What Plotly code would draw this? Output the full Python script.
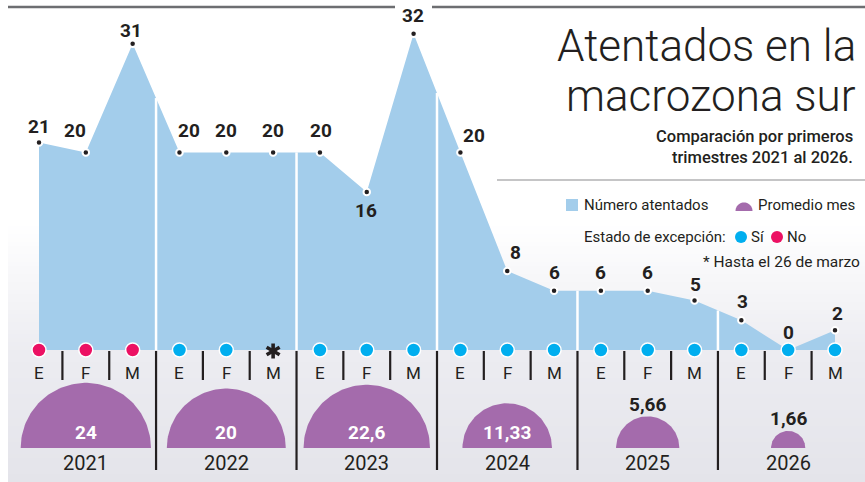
import numpy as np
import plotly.graph_objects as go

# ---------------- data ----------------
years = ['2021', '2022', '2023', '2024', '2025', '2026']
months = ['E', 'F', 'M']
atentados = [21, 20, 31, 20, 20, 20, 20, 16, 32, 20, 8, 6, 6, 6, 5, 3, 0, 2]
estado = ['No', 'No', 'No', 'Sí', 'Sí', '*', 'Sí', 'Sí', 'Sí',
          'Sí', 'Sí', 'Sí', 'Sí', 'Sí', 'Sí', 'Sí', 'Sí', 'Sí']
promedio = [24, 20, 22.6, 11.33, 5.66, 1.66]
promedio_labels = ['24', '20', '22,6', '11,33', '5,66', '1,66']

# ---------------- styling / geometry ----------------
W, H = 865, 482
X0PX, DXPX = 39, (835 - 39) / 17      # pixel of first month, px per month
Y0PX, DYPX = 350, 9.88                # baseline pixel, px per unit
AREA = '#A3CDEB'
PURPLE = '#A46BAC'
INK = '#231F20'
COL_EST = {'Sí': '#00AEEF', 'No': '#EC1163'}
FONT = 'Roboto'
label_shift = [(0, 16), (-11, 22), (-2, 13), (10, 22), (0, 22), (0, 22), (1, 22), (-1, -19),
               (-1, 18), (14, 17), (8, 18), (0, 18), (0, 18), (0, 18), (1, 16), (1, 19), (0, 18), (2, 17)]

def px2x(p):
    return (p - X0PX) / DXPX

def px2y(p):
    return (Y0PX - p) / DYPX

def PX(p):
    return p / W

def PY(p):
    return 1 - p / H

n = len(atentados)
xs = list(range(n))
fig = go.Figure()

shapes = []
annotations = []

# background gradient (below everything)
def lerp(c1, c2, t):
    return '#%02x%02x%02x' % tuple(int(round(a + (b - a) * t)) for a, b in zip(c1, c2))

c_white, c_mid, c_bot = (255, 255, 255), (236, 236, 241), (228, 228, 234)
ys_band = np.arange(222, 482, 4)
for yb in ys_band:
    if yb < 350:
        col = lerp(c_white, c_mid, (yb - 222) / (350 - 222))
    else:
        col = lerp(c_mid, c_bot, (yb - 350) / (482 - 350))
    shapes.append(dict(type='rect', xref='paper', yref='paper', x0=PX(8), x1=1,
                       y0=PY(yb + 4.5), y1=PY(yb), fillcolor=col, line=dict(width=0), layer='below'))

# area
fig.add_trace(go.Scatter(x=xs, y=atentados, mode='lines', fill='tozeroy',
                         fillcolor=AREA, line=dict(width=0, color=AREA), hoverinfo='skip'))

# separators
for k in range(n - 1):
    xm = k + 0.5
    if (k + 1) % 3 == 0:
        top = (atentados[k] + atentados[k + 1]) / 2
        shapes.append(dict(type='line', xref='x', yref='y', x0=xm, x1=xm, y0=0, y1=top,
                           line=dict(color='white', width=2.5), layer='above'))
        shapes.append(dict(type='line', xref='x', yref='y', x0=xm, x1=xm,
                           y0=px2y(351), y1=px2y(470), line=dict(color=INK, width=2.2), layer='above'))
    else:
        shapes.append(dict(type='line', xref='x', yref='y', x0=xm, x1=xm,
                           y0=px2y(351), y1=px2y(380), line=dict(color=INK, width=2.2), layer='above'))

# value dots
fig.add_trace(go.Scatter(x=xs, y=atentados, mode='markers',
                         marker=dict(size=6.5, color=INK, line=dict(color='white', width=2)),
                         hoverinfo='skip'))

# estado circles
ex = [i for i in xs if estado[i] in COL_EST]
fig.add_trace(go.Scatter(x=ex, y=[0] * len(ex), mode='markers',
                         marker=dict(size=14, color=[COL_EST[estado[i]] for i in ex],
                                     line=dict(color='white', width=1.5)),
                         hoverinfo='skip'))
# note asterisk (drawn as three strokes)
for i in xs:
    if estado[i] == '*':
        cy = px2y(351)
        for ang in (90, 30, 150):
            a = np.deg2rad(ang)
            L = 7.5
            shapes.append(dict(type='line', xref='x', yref='y',
                               x0=i - L * np.cos(a) / DXPX, x1=i + L * np.cos(a) / DXPX,
                               y0=cy - L * np.sin(a) / DYPX, y1=cy + L * np.sin(a) / DYPX,
                               line=dict(color=INK, width=3.6), layer='above'))

# value labels
for i, v in enumerate(atentados):
    sx, sy = label_shift[i]
    annotations.append(dict(x=i, y=v, xref='x', yref='y', text=str(v), showarrow=False,
                            xshift=sx, yshift=sy,
                            font=dict(family=FONT, size=19, color=INK, weight=700)))

# month labels
for i in xs:
    annotations.append(dict(x=i, y=px2y(373), xref='x', yref='y', text=months[i % 3],
                            showarrow=False, font=dict(family=FONT, size=17, color=INK)))

# semicircles (area proportional to monthly average)
K = 13.3
base = px2y(448)
t = np.linspace(0, np.pi, 80)
for j, (yr, avg, lab) in enumerate(zip(years, promedio, promedio_labels)):
    cx = 3 * j + 1
    r = K * np.sqrt(avg)
    fig.add_trace(go.Scatter(x=cx + r * np.cos(t) / DXPX, y=base + r * np.sin(t) / DYPX,
                             mode='lines', fill='toself', fillcolor=PURPLE,
                             line=dict(width=0, color=PURPLE), hoverinfo='skip'))
    if avg >= 10:
        annotations.append(dict(x=cx, y=px2y(432), xref='x', yref='y', text=lab, showarrow=False,
                                font=dict(family=FONT, size=19, color='white', weight=700)))
    else:
        annotations.append(dict(x=cx, y=px2y(448 - r - 12), xref='x', yref='y', text=lab,
                                showarrow=False,
                                font=dict(family=FONT, size=19, color=INK, weight=700)))
    annotations.append(dict(x=cx, y=px2y(463), xref='x', yref='y', text=yr, showarrow=False,
                            font=dict(family=FONT, size=20, color=INK)))

# top rules
shapes.append(dict(type='line', xref='paper', yref='paper', x0=PX(8), x1=PX(395), y0=PY(7), y1=PY(7),
                   line=dict(color='#6D6E71', width=2.5)))
shapes.append(dict(type='line', xref='paper', yref='paper', x0=PX(432), x1=1, y0=PY(7), y1=PY(7),
                   line=dict(color='#6D6E71', width=2.5)))
shapes.append(dict(type='line', xref='paper', yref='paper', x0=PX(497), x1=1, y0=PY(180), y1=PY(180),
                   line=dict(color='#8C8C8E', width=1.2)))

# title
annotations.append(dict(x=PX(858), y=PY(46), xref='paper', yref='paper', xanchor='right', yanchor='middle',
                        text='Atentados en la', showarrow=False,
                        font=dict(family=FONT, size=44, color=INK, weight=300)))
annotations.append(dict(x=PX(858), y=PY(96), xref='paper', yref='paper', xanchor='right', yanchor='middle',
                        text='macrozona sur', showarrow=False,
                        font=dict(family=FONT, size=44, color=INK, weight=300)))
annotations.append(dict(x=PX(855), y=PY(136), xref='paper', yref='paper', xanchor='right', yanchor='middle',
                        text='Comparación por primeros', showarrow=False,
                        font=dict(family=FONT, size=16.5, color=INK, weight=500)))
annotations.append(dict(x=PX(855), y=PY(158), xref='paper', yref='paper', xanchor='right', yanchor='middle',
                        text='trimestres 2021 al 2026.', showarrow=False,
                        font=dict(family=FONT, size=16.5, color=INK, weight=500)))

# legend
LF = 15
shapes.append(dict(type='rect', xref='paper', yref='paper', x0=PX(566), x1=PX(578), y0=PY(211), y1=PY(199),
                   fillcolor=AREA, line=dict(width=0)))
annotations.append(dict(x=PX(582), y=PY(205), xref='paper', yref='paper', xanchor='left', yanchor='middle',
                        text='Número atentados', showarrow=False, font=dict(family=FONT, size=LF, color=INK)))
tt = np.linspace(0, np.pi, 30)
pts = [(PX(744 + 8.5 * np.cos(a)), PY(211 - 8.5 * np.sin(a))) for a in tt]
path = 'M ' + ' L '.join('%.5f,%.5f' % p for p in pts) + ' Z'
shapes.append(dict(type='path', xref='paper', yref='paper', path=path, fillcolor=PURPLE, line=dict(width=0)))
annotations.append(dict(x=PX(756), y=PY(205), xref='paper', yref='paper', xanchor='left', yanchor='middle',
                        text='Promedio mes', showarrow=False, font=dict(family=FONT, size=LF, color=INK)))
annotations.append(dict(x=PX(582), y=PY(237), xref='paper', yref='paper', xanchor='left', yanchor='middle',
                        text='Estado de excepción:', showarrow=False, font=dict(family=FONT, size=LF, color=INK)))
for cxp, key, txt in [(741, 'Sí', 'Sí'), (777, 'No', 'No')]:
    shapes.append(dict(type='circle', xref='paper', yref='paper', x0=PX(cxp - 6), x1=PX(cxp + 6),
                       y0=PY(237 + 6), y1=PY(237 - 6), fillcolor=COL_EST[key], line=dict(width=0)))
    annotations.append(dict(x=PX(cxp + 8), y=PY(237), xref='paper', yref='paper', xanchor='left',
                            yanchor='middle', text=txt, showarrow=False,
                            font=dict(family=FONT, size=LF, color=INK)))
annotations.append(dict(x=PX(862), y=PY(262), xref='paper', yref='paper', xanchor='right', yanchor='middle',
                        text='* Hasta el 26 de marzo', showarrow=False, font=dict(family=FONT, size=15.5, color=INK)))

fig.update_layout(
    width=W, height=H, margin=dict(l=0, r=0, t=0, b=0),
    paper_bgcolor='white', plot_bgcolor='rgba(0,0,0,0)',
    showlegend=False,
    xaxis=dict(range=[px2x(0), px2x(W)], visible=False, fixedrange=True),
    yaxis=dict(range=[px2y(H), px2y(0)], visible=False, fixedrange=True),
    shapes=shapes, annotations=annotations,
)

fig.write_html('out.html', config={'displayModeBar': False},
               post_script="document.body.style.margin='0';document.body.style.overflow='hidden';")
